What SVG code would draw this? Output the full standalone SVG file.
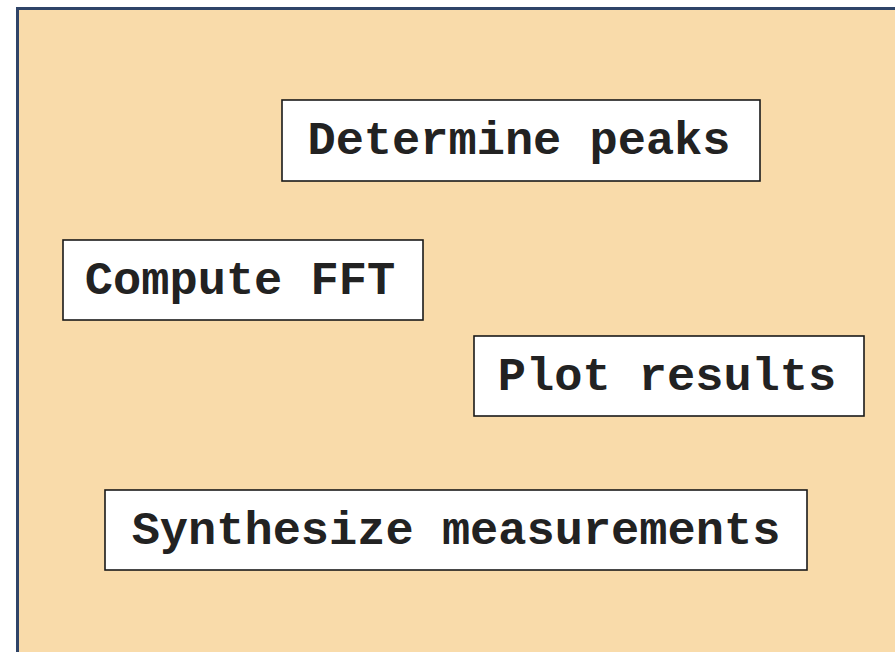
<svg xmlns="http://www.w3.org/2000/svg" width="895" height="652" viewBox="0 0 895 652">
<style>
.bg{fill:#F9DBAA;stroke:#2F4468;stroke-width:3}
.box{fill:#FFFFFF;stroke:#1A1A1A;stroke-width:1.6}
.lbl{font-family:"Liberation Mono","Courier New",monospace;font-weight:bold;font-size:47px;fill:#222222;text-anchor:middle}
</style>
<rect width="895" height="652" fill="#FFFFFF"/>
<rect class="bg" x="17.5" y="8.5" width="900" height="670"/>
<g id="connectors"></g>
<g id="determine-peaks">
<rect class="box" x="282" y="100" width="478" height="81"/>
<text class="lbl" x="519" y="154">Determine peaks</text>
</g>
<g id="compute-fft">
<rect class="box" x="63" y="240" width="360" height="80"/>
<text class="lbl" x="240" y="294">Compute FFT</text>
</g>
<g id="plot-results">
<rect class="box" x="474" y="336" width="390" height="80"/>
<text class="lbl" x="667" y="390">Plot results</text>
</g>
<g id="synthesize-measurements">
<rect class="box" x="105" y="490" width="702" height="80"/>
<text class="lbl" x="456" y="544">Synthesize measurements</text>
</g>
</svg>
